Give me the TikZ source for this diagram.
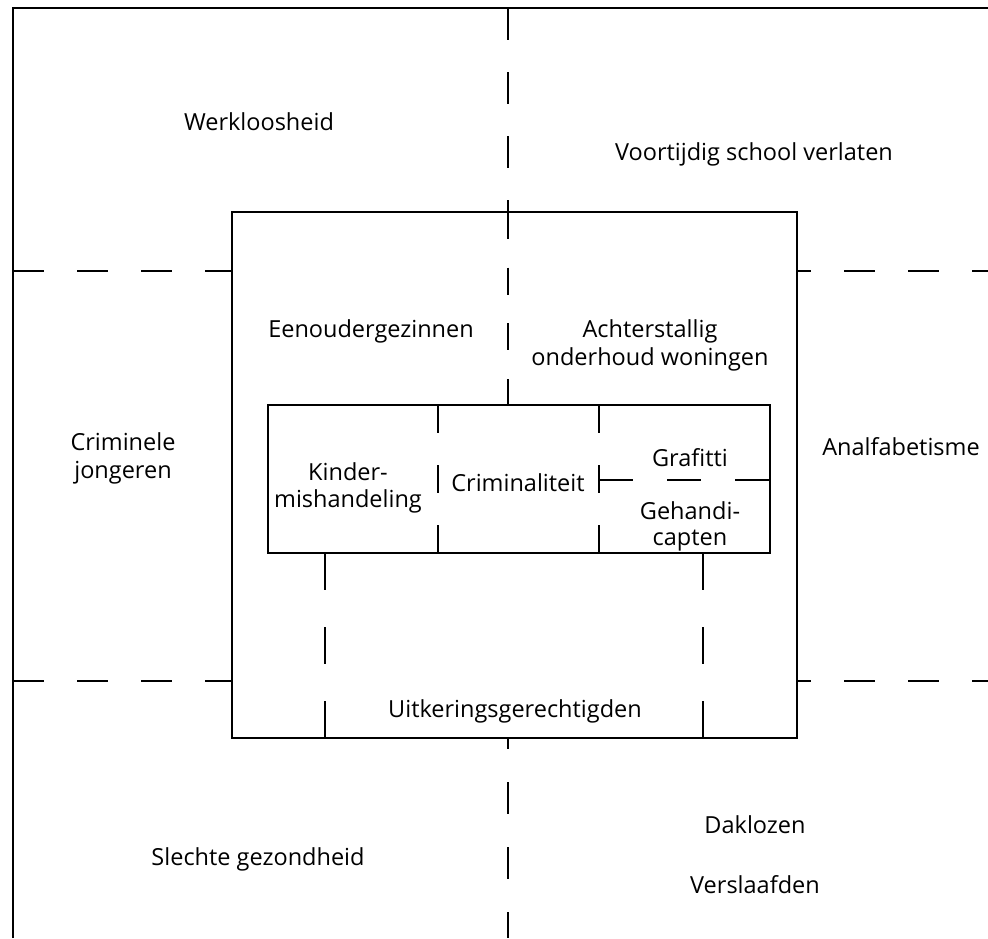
\documentclass[tikz,border=0pt]{standalone}
\usepackage{fontspec}
\setmainfont{Open Sans}
\begin{document}
\begin{tikzpicture}[x=1pt,y=-1pt,
  line width=2.8pt,
  txt/.style={font=\fontsize{23.5}{28}\selectfont, inner sep=0pt, anchor=base},
  solidline/.style={line width=2.8pt},
  dashA/.style={line width=2.8pt, dash pattern=on 31pt off 33pt},
]
\useasboundingbox (0,0) rectangle (988,938);
% outer frame (left and top)
\coordinate (tl) at (13,8);
\coordinate (bl) at (13,938);
\coordinate (tr) at (988,8);
\draw[solidline] (bl) -- (tl) -- (tr);

% middle box
\coordinate (mtl) at (232,212);
\coordinate (mbr) at (797,738);
\draw[solidline] (mtl) rectangle (mbr);

% inner box
\coordinate (itl) at (268,405);
\coordinate (ibr) at (770,553);
\draw[solidline] (itl) rectangle (ibr);

% horizontal dashed lines outside middle box
\draw[dashA] (13,271) -- (232,271);
\draw[dashA, dash phase=17pt] (797,271) -- (988,271);
\draw[dashA] (13,681) -- (232,681);
\draw[dashA, dash phase=17pt] (797,681) -- (988,681);

% vertical dashed centre line
\draw[line width=2.8pt, dash pattern=on 32pt off 32pt] (508,8) -- (508,212);
\draw[line width=2.8pt, dash pattern=on 27pt off 28.7pt] (508,212) -- (508,405);
\draw[line width=2.8pt, dash pattern=on 32pt off 33pt, dash phase=21pt] (508,738) -- (508,938);

% inner dividers
\draw[line width=2.8pt, dash pattern=on 28pt off 32pt] (438,405) -- (438,553);
\draw[line width=2.8pt, dash pattern=on 28pt off 32pt] (599,405) -- (599,553);
\draw[line width=2.8pt, dash pattern=on 34pt off 34pt] (599,480) -- (770,480);

% lower verticals inside middle box
\draw[line width=2.8pt, dash pattern=on 37pt off 37pt] (325,553) -- (325,738);
\draw[line width=2.8pt, dash pattern=on 37pt off 37pt] (703,553) -- (703,738);

% labels
\node[txt] (werk) at (259,130) {Werkloosheid};
\node[txt] (voort) at (754,160) {Voortijdig school verlaten};
\node[txt] (eenoud) at (371,337) {Eenoudergezinnen};
\node[txt] (achter1) at (650,337) {Achterstallig};
\node[txt] (achter2) at (650,365) {onderhoud woningen};
\node[txt] (crim1) at (123,450) {Criminele};
\node[txt] (crim2) at (123,478) {jongeren};
\node[txt] (analf) at (901,455) {Analfabetisme};
\node[txt] (kind1) at (348,480) {Kinder-};
\node[txt] (kind2) at (348,507) {mishandeling};
\node[txt] (crimin) at (518,491) {Criminaliteit};
\node[txt] (graf) at (690,466) {Grafitti};
\node[txt] (geh1) at (690,519) {Gehandi-};
\node[txt] (geh2) at (690,545) {capten};
\node[txt] (uitk) at (515,717) {Uitkeringsgerechtigden};
\node[txt] (slecht) at (258,865) {Slechte gezondheid};
\node[txt] (dakl) at (755,833) {Daklozen};
\node[txt] (versl) at (755,893) {Verslaafden};
\end{tikzpicture}
\end{document}
